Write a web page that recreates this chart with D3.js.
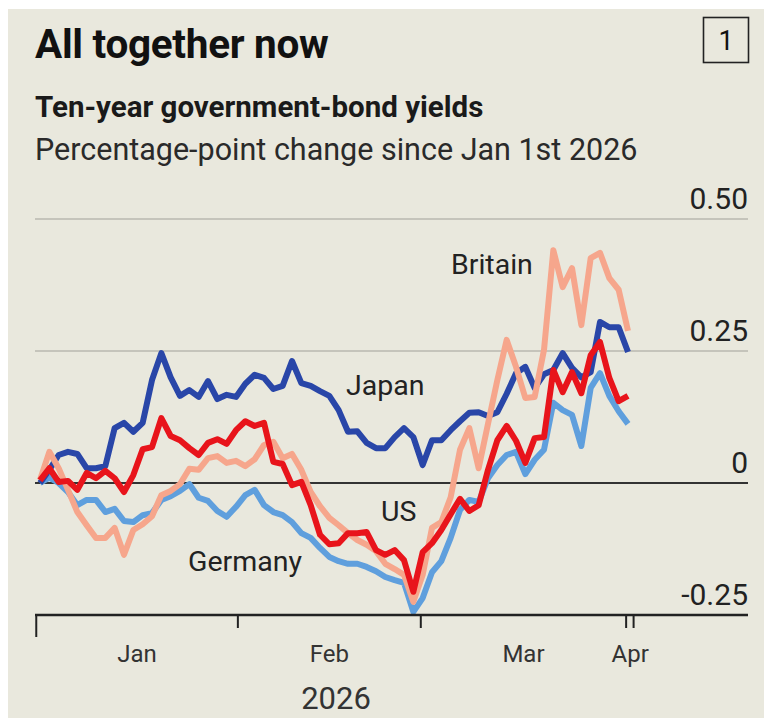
<!DOCTYPE html>
<html>
<head>
<meta charset="utf-8">
<script src="https://cdn.jsdelivr.net/npm/d3@7/dist/d3.min.js"></script>
<style>
  body { margin: 0; background: #fff; }
  svg { display: block; font-family: Roboto, "Liberation Sans", sans-serif; }
</style>
</head>
<body>
<svg width="764" height="718"></svg>
<script>
// trading days Jan 2nd - Apr 1st 2026
var startDay = "2026-01-02", endDay = "2026-04-01";

var japan = [0.00, 0.025, 0.053, 0.059, 0.055, 0.028, 0.028, 0.032, 0.104, 0.114,
  0.097, 0.114, 0.195, 0.246, 0.20, 0.165, 0.176, 0.163, 0.193, 0.159,
  0.167, 0.163, 0.188, 0.205, 0.199, 0.178, 0.184, 0.231, 0.189, 0.184,
  0.174, 0.165, 0.138, 0.097, 0.098, 0.076, 0.066, 0.066, 0.087, 0.104,
  0.087, 0.034, 0.081, 0.081, 0.10, 0.117, 0.133, 0.134, 0.127, 0.134,
  0.169, 0.208, 0.22, 0.18, 0.206, 0.214, 0.246, 0.218, 0.20, 0.21,
  0.305, 0.295, 0.295, 0.248];

var us = [0.005, 0.028, 0.002, 0.004, -0.013, 0.019, 0.009, 0.023, 0.009, -0.017,
  0.015, 0.064, 0.068, 0.123, 0.089, 0.081, 0.066, 0.053, 0.076, 0.083,
  0.074, 0.10, 0.117, 0.108, 0.114, 0.04, 0.036, -0.004, 0.002, -0.042,
  -0.098, -0.116, -0.114, -0.095, -0.095, -0.093, -0.127, -0.136, -0.127, -0.146,
  -0.206, -0.131, -0.114, -0.089, -0.059, -0.03, -0.053, -0.042, 0.025, 0.081,
  0.108, 0.08, 0.038, 0.085, 0.087, 0.214, 0.172, 0.21, 0.17, 0.242,
  0.267, 0.199, 0.155, 0.165];

var britain = [0.006, 0.059, 0.028, -0.013, -0.055, -0.08, -0.104, -0.104, -0.085, -0.136,
  -0.089, -0.078, -0.063, -0.023, -0.015, -0.002, 0.027, 0.025, 0.047, 0.051,
  0.038, 0.042, 0.032, 0.045, 0.072, 0.078, 0.047, 0.055, 0.025, -0.017,
  -0.044, -0.066, -0.08, -0.095, -0.108, -0.117, -0.129, -0.153, -0.163, -0.174,
  -0.225, -0.174, -0.085, -0.074, -0.027, 0.063, 0.104, 0.028, 0.112, 0.195,
  0.271, 0.22, 0.161, 0.163, 0.252, 0.441, 0.371, 0.407, 0.299, 0.426,
  0.436, 0.388, 0.366, 0.288];

var germany = [0.00, 0.01, 0.00, -0.017, -0.042, -0.032, -0.032, -0.055, -0.049, -0.072,
  -0.074, -0.061, -0.057, -0.032, -0.025, -0.015, -0.002, -0.028, -0.034, -0.053,
  -0.064, -0.045, -0.023, -0.013, -0.042, -0.055, -0.061, -0.074, -0.095, -0.104,
  -0.123, -0.14, -0.148, -0.153, -0.153, -0.159, -0.167, -0.178, -0.184, -0.189,
  -0.244, -0.218, -0.169, -0.148, -0.104, -0.051, -0.032, -0.036, 0.009, 0.034,
  0.053, 0.059, 0.017, 0.044, 0.063, 0.152, 0.138, 0.129, 0.07, 0.18,
  0.208, 0.165, 0.136, 0.112];

var yTicks = [-0.25, 0, 0.25, 0.50];
var yTickLabels = ["-0.25", "0", "0.25", "0.50"];
var months = ["Jan", "Feb", "Mar", "Apr"];

var series = [
  {name: "Germany", values: germany, color: "#5f9fdd"},
  {name: "Japan", values: japan, color: "#2946a8"},
  {name: "Britain", values: britain, color: "#f6a68c"},
  {name: "US", values: us, color: "#e8141b"}
];

// weekday calendar for the x axis
var days = d3.timeDay.range(new Date(startDay + "T00:00"), d3.timeDay.offset(new Date(endDay + "T00:00"), 1))
  .filter(function(d) { return d.getDay() != 0 && d.getDay() != 6; });

var svg = d3.select("svg");

svg.append("rect")
  .attr("x", 8).attr("y", 9)
  .attr("width", 756).attr("height", 709)
  .attr("fill", "#e9e8dd");

var x = d3.scaleLinear().domain([0, days.length - 1]).range([40, 628]);
var y = d3.scaleLinear().domain([-0.25, 0.5]).range([615, 219]);

// headings
svg.append("text").attr("x", 35).attr("y", 58)
  .attr("font-size", 40.5).attr("font-weight", 700).attr("fill", "#111")
  .attr("letter-spacing", -0.3)
  .text("All together now");

svg.append("rect").attr("x", 703.5).attr("y", 17.5)
  .attr("width", 45).attr("height", 45)
  .attr("fill", "none").attr("stroke", "#222").attr("stroke-width", 1.6);
svg.append("text").attr("x", 726).attr("y", 50)
  .attr("text-anchor", "middle").attr("font-size", 27).attr("fill", "#111")
  .text("1");

svg.append("text").attr("x", 35).attr("y", 117)
  .attr("font-size", 29.5).attr("font-weight", 700).attr("fill", "#1a1a1a")
  .text("Ten-year government-bond yields");

svg.append("text").attr("x", 35).attr("y", 160)
  .attr("font-size", 30.5).attr("fill", "#2a2a2a")
  .text("Percentage-point change since Jan 1st 2026");

// gridlines and y labels
var grid = svg.append("g");
grid.selectAll("line")
  .data(yTicks.filter(function(d) { return d > -0.25; }))
  .enter().append("line")
  .attr("x1", 35).attr("x2", 748)
  .attr("y1", function(d) { return y(d); })
  .attr("y2", function(d) { return y(d); })
  .attr("stroke", function(d) { return d == 0 ? "#333" : "#c5c4bb"; })
  .attr("stroke-width", 2);

grid.selectAll("text")
  .data(yTicks)
  .enter().append("text")
  .attr("x", 748)
  .attr("y", function(d) { return y(d) - 10; })
  .attr("text-anchor", "end")
  .attr("font-size", 30)
  .attr("fill", "#222")
  .text(function(d, i) { return yTickLabels[i]; });

// lines
var line = d3.line()
  .x(function(d, i) { return x(i); })
  .y(function(d) { return y(d); });

svg.append("g").selectAll("path")
  .data(series)
  .enter().append("path")
  .attr("d", function(d) { return line(d.values); })
  .attr("fill", "none")
  .attr("stroke", function(d) { return d.color; })
  .attr("stroke-width", 6)
  .attr("stroke-linejoin", "round");

// x axis: ticks at the first trading day of each month
var monthStart = months.map(function(m, k) {
  var i = days.findIndex(function(d) { return d.getMonth() == k; });
  return i - 0.2;
});
monthStart[0] = -0.4;
monthStart[1] = 21.2;
var tickPos = monthStart.concat([days.length - 0.4]);

var axis = svg.append("g");
axis.append("line")
  .attr("x1", 35).attr("x2", 748)
  .attr("y1", y(-0.25)).attr("y2", y(-0.25))
  .attr("stroke", "#222").attr("stroke-width", 2.5);

axis.selectAll(".tick")
  .data(tickPos)
  .enter().append("line")
  .attr("class", "tick")
  .attr("x1", function(d) { return x(d); })
  .attr("x2", function(d) { return x(d); })
  .attr("y1", y(-0.25))
  .attr("y2", function(d, i) { return i == 0 ? 637 : 628; })
  .attr("stroke", "#222").attr("stroke-width", 2);

axis.selectAll(".month")
  .data(months)
  .enter().append("text")
  .attr("class", "month")
  .attr("x", function(d, i) {
    if (i == months.length - 1) return x(monthStart[i]) + 4;
    return (x(monthStart[i]) + x(monthStart[i + 1])) / 2;
  })
  .attr("y", 662)
  .attr("text-anchor", "middle")
  .attr("font-size", 24)
  .attr("fill", "#333")
  .text(function(d) { return d; });

axis.append("text")
  .attr("x", 336)
  .attr("y", 709)
  .attr("text-anchor", "middle")
  .attr("font-size", 31)
  .attr("fill", "#333")
  .text("2026");

// series labels
var labels = [
  {name: "Japan", x: 346, y: 395},
  {name: "Britain", x: 451, y: 274},
  {name: "US", x: 381, y: 521},
  {name: "Germany", x: 188, y: 571}
];
svg.append("g").selectAll("text")
  .data(labels)
  .enter().append("text")
  .attr("x", function(d) { return d.x; })
  .attr("y", function(d) { return d.y; })
  .attr("font-size", 28.5)
  .attr("fill", "#222")
  .text(function(d) { return d.name; });
</script>
</body>
</html>
